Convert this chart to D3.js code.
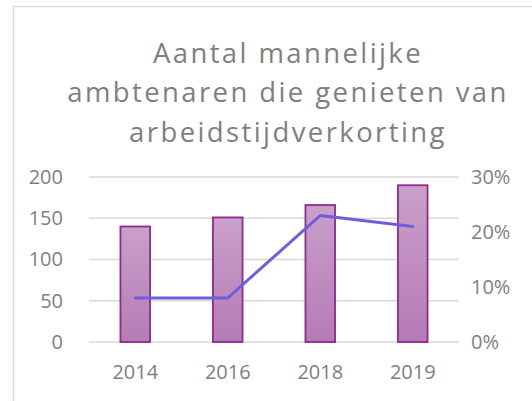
<!DOCTYPE html>
<html>
<head>
<meta charset="utf-8">
<script src="https://cdn.jsdelivr.net/npm/d3@7"></script>
<style>
  body { margin: 0; background: #fff; }
  svg text { font-family: "Open Sans", sans-serif; fill: #7f7f7f; }
</style>
</head>
<body>
<div id="chart"></div>
<script>
// chart data
const years = ['2014', '2016', '2018', '2019'];
const ambtenaren = [140, 151, 166, 190];
const aandeel = [0.08, 0.08, 0.23, 0.21];
const leftTicks = [0, 50, 100, 150, 200];
const rightTicks = [0, 0.1, 0.2, 0.3];
const titleLines = ['Aantal mannelijke', 'ambtenaren die genieten van', 'arbeidstijdverkorting'];

const width = 532, height = 401;
const plot = { left: 89, right: 459, top: 177, bottom: 342 };
const tickFont = 20;

const svg = d3.select('#chart').append('svg')
    .attr('width', width)
    .attr('height', height);

// chart frame (runs off the right and bottom edge)
svg.append('rect')
    .attr('x', 13.5).attr('y', 6.5)
    .attr('width', 600).attr('height', 500)
    .attr('fill', '#fff')
    .attr('stroke', '#d9d9d9')
    .attr('stroke-width', 1.5);

const defs = svg.append('defs');
const grad = defs.append('linearGradient')
    .attr('id', 'barFill')
    .attr('x1', 0).attr('y1', 0).attr('x2', 0).attr('y2', 1);
grad.append('stop').attr('offset', '0%').attr('stop-color', '#c9a0c9');
grad.append('stop').attr('offset', '100%').attr('stop-color', '#b57bb5');

// title (slightly spaced like the Excel title)
svg.append('text')
    .attr('text-anchor', 'middle')
    .attr('font-size', 27.5)
    .attr('letter-spacing', 2.4)
    .selectAll('tspan')
    .data(titleLines)
    .join('tspan')
    .attr('x', 288)
    .attr('y', (d, i) => 62.5 + i * 39.5)
    .text(d => d);

const x = d3.scaleBand()
    .domain(years)
    .range([plot.left, plot.right])
    .paddingInner(0.68)
    .paddingOuter(0.34);

const y = d3.scaleLinear().domain([0, 200]).range([plot.bottom, plot.top]);
const y2 = d3.scaleLinear().domain([0, 0.3]).range([plot.bottom, plot.top]);

// gridlines
svg.append('g')
    .selectAll('line')
    .data(leftTicks)
    .join('line')
    .attr('x1', plot.left).attr('x2', plot.right)
    .attr('y1', d => y(d)).attr('y2', d => y(d))
    .attr('stroke', '#d9d9d9')
    .attr('stroke-width', 1.5);

function styleAxis(g) {
    g.select('.domain').remove();
    g.selectAll('text')
        .attr('font-size', tickFont)
        .attr('fill', '#7f7f7f')
        .attr('font-family', '"Open Sans", sans-serif');
}

// left axis
svg.append('g')
    .attr('transform', `translate(63,0)`)
    .call(d3.axisLeft(y).tickValues(leftTicks).tickSize(0).tickPadding(0))
    .call(styleAxis);

// right axis
svg.append('g')
    .attr('transform', `translate(471,0)`)
    .call(d3.axisRight(y2).tickValues(rightTicks).tickFormat(d3.format('.0%')).tickSize(0).tickPadding(0))
    .call(styleAxis);

// bottom axis
svg.append('g')
    .attr('transform', `translate(0,${plot.bottom})`)
    .call(d3.axisBottom(x).tickSize(0).tickPadding(23))
    .call(styleAxis);

// bars
svg.append('g')
    .selectAll('rect')
    .data(years)
    .join('rect')
    .attr('x', d => x(d))
    .attr('y', (d, i) => y(ambtenaren[i]))
    .attr('width', x.bandwidth())
    .attr('height', (d, i) => y(0) - y(ambtenaren[i]))
    .attr('fill', 'url(#barFill)')
    .attr('stroke', '#8e2a91')
    .attr('stroke-width', 1.8);

// line
const line = d3.line()
    .x((d, i) => x(years[i]) + x.bandwidth() / 2)
    .y(d => y2(d));

svg.append('path')
    .datum(aandeel)
    .attr('d', line)
    .attr('fill', 'none')
    .attr('stroke', '#6f5ddb')
    .attr('stroke-width', 3)
    .attr('stroke-linejoin', 'round')
    .attr('stroke-linecap', 'round');
</script>
</body>
</html>
